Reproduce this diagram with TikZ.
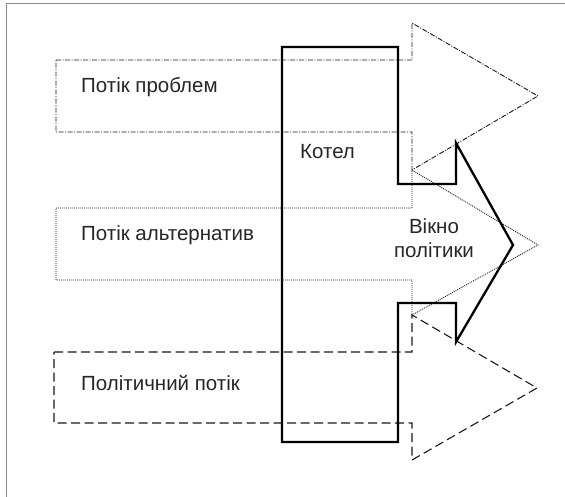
\documentclass[tikz,border=0pt]{standalone}
\usepackage{fontspec}
\setmainfont{Liberation Sans}
\usetikzlibrary{positioning}

\begin{document}
\begin{tikzpicture}[x=1pt,y=-1pt,
    problemflow/.style={draw=black!90,line width=0.9pt,dash pattern=on 5pt off 1.5pt on 1pt off 1.5pt},
    altflow/.style={draw=black!85,line width=0.9pt,dash pattern=on 1pt off 1pt},
    politflow/.style={draw=black!90,line width=1.1pt,dash pattern=on 9pt off 4.5pt},
    boiler/.style={draw=black,line width=2.3pt,line join=miter},
    label/.style={inner sep=0pt,text=black!85,font=\fontsize{20.5}{24}\selectfont}]

    \useasboundingbox (0,0) rectangle (565,497);
    \draw[black!45,line width=0.8pt] (6,497) -- (6,3) -- (565,3);

    % three streams
    \draw[problemflow] (56,60) -- (412,60) -- (412,23) -- (538,96) -- (412,170) -- (412,132) -- (56,132) -- cycle;
    \draw[altflow] (56,208) -- (412,208) -- (412,170) -- (538,245) -- (412,315) -- (412,280) -- (56,280) -- cycle;
    \draw[politflow] (54,352) -- (412,352) -- (412,315) -- (537,388) -- (412,460) -- (412,423) -- (54,423) -- cycle;

    % boiler and window
    \draw[boiler] (282,47) -- (398,47) -- (398,184) -- (456,184) -- (456,143) -- (513,245)
        -- (456,342) -- (456,303) -- (398,303) -- (398,442) -- (282,442) -- cycle;

    \node[label,anchor=west] (problems) at (81,87) {Потік проблем};
    \node[label,anchor=west] (alternatives) at (81,235) {Потік альтернатив};
    \node[label,anchor=west] (politics) at (81,383) {Політичний потік};
    \node[label,anchor=west] (boilertext) at (300,152) {Котел};
    \node[label,align=center] (window) at (434,238) {Вікно\\політики};

\end{tikzpicture}
\end{document}
